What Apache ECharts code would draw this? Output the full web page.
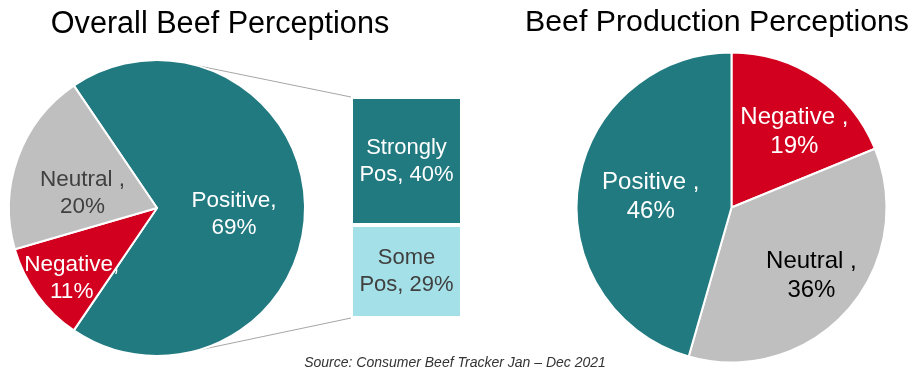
<!DOCTYPE html>
<html><head><meta charset="utf-8">
<script src="https://cdn.jsdelivr.net/npm/echarts@6/dist/echarts.min.js"></script>
<style>html,body{margin:0;padding:0;background:#fff}#c{width:917px;height:370px}</style>
</head><body><div id="c"></div>
<script>
// ---- data ----
const titles = ['Overall Beef Perceptions', 'Beef Production Perceptions'];
const overallNames = ['Positive', 'Negative', 'Neutral'];
const overallValues = [69, 11, 20];
const overallSep = ['', '', ' '];
const breakdownNames = ['Some Pos', 'Strongly Pos'];
const breakdownValues = [29, 40];
const productionNames = ['Negative', 'Neutral', 'Positive'];
const productionValues = [19, 36, 46];
const productionSep = [' ', ' ', ' '];
const sourceNote = 'Source: Consumer Beef Tracker Jan \u2013 Dec 2021';

// ---- layout / style ----
const FONT = '"Liberation Sans", Arial, sans-serif';
const TEAL = '#217A80', RED = '#D2001E', GRAY = '#BFBFBF', LIGHT = '#A4E0E8';
const leftPie = { cx: 157, cy: 208, r: 148 };
const rightPie = { cx: 731.5, cy: 207.5, r: 155 };
const barGrid = { left: 351, top: 97, width: 111, height: 221 };

const overallColors = [TEAL, RED, GRAY];
const overallLabelColors = ['#fff', '#fff', '#404040'];
const overallOffsets = [[0, 6], [-23, 25], [-2, 11]];
const productionColors = [RED, GRAY, TEAL];
const productionLabelColors = ['#fff', '#000', '#fff'];
const productionOffsets = [[18, -9], [20, 15], [-1, 1]];

const chart = echarts.init(document.getElementById('c'), null, { renderer: 'canvas' });

function pieData(names, values, colors, labelColors, offsets, seps) {
  return names.map((n, i) => ({
    name: n, value: values[i],
    itemStyle: { color: colors[i] },
    label: { color: labelColors[i], offset: offsets[i],
      formatter: n + seps[i] + ',\n' + values[i] + '%' }
  }));
}

const total = breakdownValues.reduce((a, b) => a + b, 0);

const option = {
  animation: false,
  title: [
    { text: titles[0], left: 220, top: 9, textAlign: 'center', padding: 0,
      textStyle: { fontSize: 30.6, fontWeight: 'normal', color: '#000', fontFamily: FONT } },
    { text: titles[1], left: 717, top: 8, textAlign: 'center', padding: 0,
      textStyle: { fontSize: 30.3, fontWeight: 'normal', color: '#000', fontFamily: FONT } }
  ],
  grid: { left: barGrid.left, top: barGrid.top, width: barGrid.width, height: barGrid.height },
  xAxis: { type: 'category', data: ['Positive'], show: false },
  yAxis: { type: 'value', min: 0, max: total, show: false },
  series: [
    {
      type: 'pie', center: [leftPie.cx, leftPie.cy], radius: leftPie.r,
      startAngle: 124.2, clockwise: true, avoidLabelOverlap: false,
      itemStyle: { borderColor: '#fff', borderWidth: 2 },
      label: { position: 'inside', fontSize: 22.5, lineHeight: 27, fontFamily: FONT },
      labelLine: { show: false },
      emphasis: { disabled: true },
      data: pieData(overallNames, overallValues, overallColors, overallLabelColors, overallOffsets, overallSep)
    },
    {
      type: 'pie', center: [rightPie.cx, rightPie.cy], radius: rightPie.r,
      startAngle: 90, clockwise: true, avoidLabelOverlap: false,
      itemStyle: { borderColor: '#fff', borderWidth: 2 },
      label: { position: 'inside', fontSize: 24, lineHeight: 29, fontFamily: FONT },
      labelLine: { show: false },
      emphasis: { disabled: true },
      data: pieData(productionNames, productionValues, productionColors, productionLabelColors, productionOffsets, productionSep)
    },
    {
      type: 'bar', stack: 'pos', barWidth: '100%', name: breakdownNames[0],
      data: [breakdownValues[0]],
      itemStyle: { color: LIGHT, borderColor: '#fff', borderWidth: 2 },
      label: { show: true, position: 'inside', fontSize: 22, lineHeight: 27, fontFamily: FONT,
        color: '#404040', formatter: breakdownNames[0].replace(' ', '\n') + ', ' + breakdownValues[0] + '%' },
      emphasis: { disabled: true }
    },
    {
      type: 'bar', stack: 'pos', barWidth: '100%', name: breakdownNames[1],
      data: [breakdownValues[1]],
      itemStyle: { color: TEAL, borderColor: '#fff', borderWidth: 2 },
      label: { show: true, position: 'inside', fontSize: 22, lineHeight: 27, fontFamily: FONT,
        color: '#fff', formatter: breakdownNames[1].replace(' ', '\n') + ', ' + breakdownValues[1] + '%' },
      emphasis: { disabled: true }
    }
  ]
};
chart.setOption(option);

// connector lines from the pie to the breakdown bar
const yTop = chart.convertToPixel({ yAxisIndex: 0 }, total);
const yBot = chart.convertToPixel({ yAxisIndex: 0 }, 0);
const a = 74 * Math.PI / 180;
const p1 = [leftPie.cx + leftPie.r * Math.cos(a), leftPie.cy - leftPie.r * Math.sin(a)];
const p2 = [leftPie.cx + leftPie.r * Math.cos(a), leftPie.cy + leftPie.r * Math.sin(a)];
chart.setOption({
  graphic: [
    { type: 'line', shape: { x1: p1[0], y1: p1[1], x2: barGrid.left, y2: yTop },
      style: { stroke: '#A6A6A6', lineWidth: 1 }, silent: true },
    { type: 'line', shape: { x1: p2[0], y1: p2[1], x2: barGrid.left, y2: yBot },
      style: { stroke: '#A6A6A6', lineWidth: 1 }, silent: true },
    { type: 'text', x: 455, y: 363, silent: true,
      style: { text: sourceNote, textAlign: 'center', textVerticalAlign: 'middle',
        font: 'italic 14px ' + FONT, fill: '#333' } }
  ]
});
</script></body></html>
